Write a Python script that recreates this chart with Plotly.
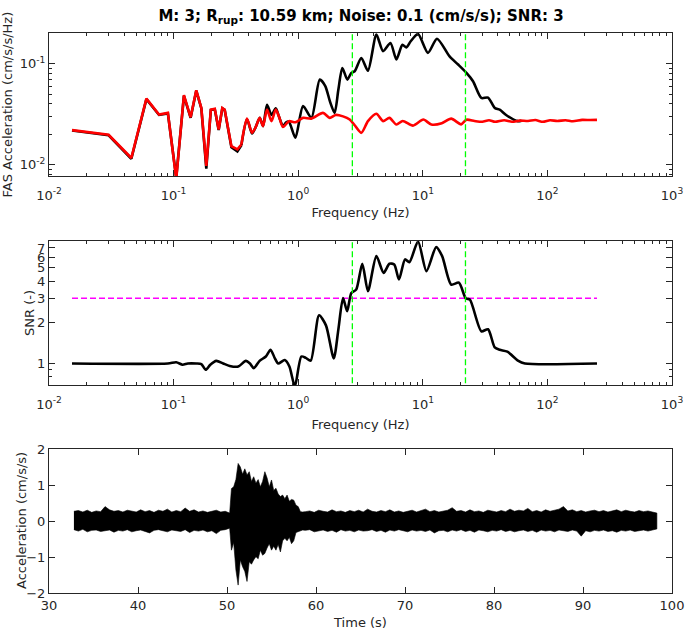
import numpy as np
import plotly.graph_objects as go

# ---------------- data ----------------
# Fourier amplitude spectrum of the signal (black)
freq_signal = [0.0153, 0.0301, 0.0458, 0.0605, 0.0764, 0.090, 0.105, 0.121, 0.137, 0.152,
               0.167, 0.183, 0.199, 0.214, 0.230, 0.246, 0.257, 0.291, 0.325, 0.35,
               0.388, 0.426, 0.456, 0.491, 0.522, 0.562, 0.61, 0.66, 0.70, 0.755,
               0.80, 0.843, 0.95, 1.094, 1.276, 1.49, 1.65, 1.8, 1.96, 2.1,
               2.26, 2.48, 2.67, 2.84, 3.21, 3.63, 4.24, 4.80, 5.50, 6.14,
               6.86, 7.38, 8.0, 9.16, 11.0, 13.0, 16.4, 19.2, 22.4, 25.3,
               29.5, 33.4, 37.8, 41.4, 46.9, 58.0, 62.0]
fas_signal = [0.0217, 0.0195, 0.0114, 0.0445, 0.0310, 0.0320, 0.0074, 0.0480, 0.0290, 0.0540,
              0.0360, 0.0091, 0.0347, 0.0353, 0.0220, 0.0360, 0.0348, 0.0148, 0.0135, 0.0155,
              0.0283, 0.0203, 0.0235, 0.0290, 0.0240, 0.0390, 0.0310, 0.0360, 0.0300, 0.0240,
              0.0262, 0.0265, 0.0184, 0.0379, 0.0290, 0.0695, 0.0600, 0.0420, 0.0325, 0.0550,
              0.0906, 0.0695, 0.0810, 0.0840, 0.1140, 0.0850, 0.1940, 0.1330, 0.1600, 0.1100,
              0.1540, 0.1450, 0.1670, 0.1970, 0.1280, 0.1770, 0.1180, 0.0980, 0.0810, 0.0670,
              0.0457, 0.0460, 0.0364, 0.0350, 0.0308, 0.0269, 0.0272]

# Fourier amplitude spectrum of the noise (red)
freq_noise = [0.0153, 0.0301, 0.0458, 0.0605, 0.0764, 0.090, 0.105, 0.121, 0.137, 0.152,
              0.167, 0.183, 0.199, 0.214, 0.230, 0.246, 0.257, 0.291, 0.325, 0.35,
              0.388, 0.426, 0.456, 0.491, 0.522, 0.562, 0.61, 0.66, 0.70, 0.755,
              0.843, 0.95, 1.094, 1.276, 1.58, 1.79, 2.0, 2.29, 2.59, 2.84,
              3.21, 3.63, 4.24, 4.80, 5.4, 6.14, 6.9, 8.34, 10.1, 11.7,
              14.2, 16.9, 20.3, 22.4, 26.0, 30.0, 34.0, 38.0, 45.0, 52.0,
              60.0, 70.0, 80.0, 92.0, 105.0, 120.0, 140.0, 160.0, 190.0, 220.0, 250.0]
fas_noise = [0.0219, 0.0197, 0.0116, 0.0450, 0.0313, 0.0325, 0.0072, 0.0487, 0.0294, 0.0544,
             0.0364, 0.0097, 0.0350, 0.0356, 0.0222, 0.0364, 0.0350, 0.0152, 0.0141, 0.0158,
             0.0285, 0.0206, 0.0235, 0.0290, 0.0240, 0.0350, 0.0269, 0.0350, 0.0300, 0.0235,
             0.0269, 0.0262, 0.0290, 0.0285, 0.0325, 0.0290, 0.0310, 0.0300, 0.0279, 0.0245,
             0.0206, 0.0269, 0.0318, 0.0269, 0.0290, 0.0249, 0.0270, 0.0243, 0.0279, 0.0249,
             0.0256, 0.0285, 0.0250, 0.0278, 0.0270, 0.0265, 0.0275, 0.0265, 0.0275, 0.0265,
             0.0272, 0.0270, 0.0276, 0.0265, 0.0275, 0.0270, 0.0275, 0.0268, 0.0277, 0.0276, 0.0277]

# Signal-to-noise ratio
freq_snr = [0.0153, 0.090, 0.105, 0.118, 0.13, 0.152, 0.167, 0.181, 0.197, 0.22,
            0.25, 0.282, 0.33, 0.38, 0.41, 0.44, 0.49, 0.55, 0.60, 0.65,
            0.69, 0.78, 0.85, 0.94, 1.06, 1.15, 1.26, 1.47, 1.67, 1.93,
            2.1, 2.29, 2.47, 2.67, 2.92, 3.27, 3.63, 4.24, 4.85, 5.4,
            5.9, 6.44, 7.2, 7.8, 9.16, 10.7, 12.8, 14.3, 16.9, 19.5,
            22.1, 23.9, 29.5, 33.4, 37.8, 41.4, 47.7, 58.0, 66.0, 250.0]
snr = [1.0, 1.0, 1.02, 0.98, 1.0, 1.0, 0.99, 0.90, 0.98, 1.045,
       1.0, 0.96, 0.95, 1.045, 1.0, 0.925, 1.045, 1.125, 1.26, 1.09,
       1.0, 1.06, 0.95, 0.68, 1.125, 1.10, 1.05, 2.25, 1.90, 1.09,
       1.77, 3.01, 2.41, 3.28, 3.47, 5.36, 3.38, 6.10, 4.60, 5.36,
       5.30, 4.11, 5.77, 5.50, 7.80, 4.74, 7.10, 6.10, 3.78, 3.90,
       3.00, 2.93, 1.72, 1.78, 1.31, 1.26, 1.22, 1.05, 1.0, 1.0]

corner_freqs = [2.72, 22.0]          # green dashed lines
snr_threshold = 3                     # magenta dashed line
snr_line_freqs = [0.0153, 250.0]

# Acceleration time series, upper / lower envelope of the trace (cm/s/s)
pre_start, pre_step = 32.8, 0.5
pre_upper = [0.27, 0.29, 0.25, 0.30, 0.24, 0.28, 0.26, 0.40, 0.31, 0.27, 0.29, 0.25, 0.30, 0.27,
             0.25, 0.31, 0.26, 0.29, 0.24, 0.30, 0.27, 0.33, 0.25, 0.29, 0.26, 0.36, 0.27, 0.31,
             0.25, 0.28, 0.24, 0.27, 0.30, 0.25, 0.27, 0.22]
pre_lower = [-0.24, -0.28, -0.23, -0.30, -0.26, -0.25, -0.29, -0.27, -0.25, -0.31, -0.26, -0.28,
             -0.24, -0.30, -0.27, -0.25, -0.29, -0.33, -0.26, -0.24, -0.28, -0.30, -0.25, -0.27,
             -0.29, -0.24, -0.32, -0.26, -0.28, -0.25, -0.30, -0.27, -0.35, -0.26, -0.24, -0.20]
burst_start, burst_step = 50.5, 0.25
burst_upper = [0.90, 0.95, 1.15, 1.60, 1.50, 1.30, 1.45, 1.28, 1.37, 1.10, 1.23, 1.05, 1.15,
               0.95, 1.10, 1.37, 1.20, 0.95, 1.14, 0.85, 0.91, 0.75, 0.68, 0.72, 0.62, 0.72,
               0.55, 0.60, 0.58, 0.44, 0.40, 0.26, 0.25]
burst_lower = [-0.81, -0.60, -1.36, -1.78, -1.08, -1.27, -1.40, -1.68, -1.13, -1.20, -1.08,
               -0.99, -1.05, -0.81, -0.95, -0.90, -0.75, -0.63, -0.81, -0.70, -0.81, -0.65,
               -0.86, -0.55, -0.48, -0.55, -0.45, -0.63, -0.55, -0.32, -0.30, -0.28, -0.25]
post_start, post_step = 58.8, 0.5
post_upper = [0.26, 0.28, 0.24, 0.30, 0.27, 0.25, 0.31, 0.26, 0.28, 0.24, 0.29, 0.26, 0.30, 0.25,
              0.33, 0.27, 0.25, 0.29, 0.26, 0.31, 0.25, 0.28, 0.24, 0.27, 0.30, 0.25, 0.28, 0.33,
              0.26, 0.29, 0.25, 0.28, 0.30, 0.37, 0.27, 0.29, 0.25, 0.31, 0.26, 0.28, 0.24, 0.30,
              0.27, 0.25, 0.29, 0.26, 0.33, 0.27, 0.30, 0.28, 0.35, 0.26, 0.29, 0.25, 0.31, 0.27,
              0.30, 0.33, 0.40, 0.28, 0.31, 0.26, 0.29, 0.25, 0.28, 0.30, 0.26, 0.29, 0.25, 0.28,
              0.31, 0.26, 0.30, 0.27, 0.25, 0.29, 0.26, 0.28, 0.25, 0.22]
post_lower = [-0.26, -0.24, -0.30, -0.27, -0.25, -0.29, -0.26, -0.31, -0.24, -0.28, -0.26, -0.30,
              -0.25, -0.28, -0.27, -0.24, -0.29, -0.26, -0.31, -0.25, -0.28, -0.24, -0.27, -0.30,
              -0.25, -0.28, -0.26, -0.29, -0.25, -0.33, -0.27, -0.26, -0.30, -0.25, -0.28, -0.24,
              -0.29, -0.26, -0.31, -0.25, -0.27, -0.30, -0.26, -0.28, -0.24, -0.29, -0.26, -0.30,
              -0.27, -0.25, -0.29, -0.26, -0.31, -0.25, -0.28, -0.26, -0.30, -0.25, -0.27, -0.29,
              -0.25, -0.28, -0.42, -0.27, -0.30, -0.26, -0.28, -0.25, -0.29, -0.27, -0.31, -0.26,
              -0.28, -0.25, -0.29, -0.27, -0.25, -0.28, -0.26, -0.22]

# ---------------- build figure ----------------
def seg_time(start, step, n):
    return [start + step * i for i in range(n)]

n_pre = min(len(pre_upper), len(pre_lower))
n_burst = min(len(burst_upper), len(burst_lower))
n_post = min(len(post_upper), len(post_lower))
t_env = (seg_time(pre_start, pre_step, n_pre) + seg_time(burst_start, burst_step, n_burst)
         + seg_time(post_start, post_step, n_post))
up_env = pre_upper[:n_pre] + burst_upper[:n_burst] + post_upper[:n_post]
lo_env = pre_lower[:n_pre] + burst_lower[:n_burst] + post_lower[:n_post]

FONT = "DejaVu Sans"
AX = "#262626"
SMOOTH_FROM = 0.35   # sparse low-frequency samples drawn straight, dense part smoothed

fig = go.Figure()

def add_spectrum(fx, fy, color, xa, ya):
    lo_idx = [i for i, f in enumerate(fx) if f <= SMOOTH_FROM]
    hi_idx = [i for i, f in enumerate(fx) if f >= SMOOTH_FROM]
    fig.add_trace(go.Scatter(x=[fx[i] for i in lo_idx], y=[fy[i] for i in lo_idx], mode="lines",
                             line=dict(color=color, width=2.6), xaxis=xa, yaxis=ya))
    fig.add_trace(go.Scatter(x=[fx[i] for i in hi_idx], y=[fy[i] for i in hi_idx], mode="lines",
                             line=dict(color=color, width=2.6, shape="spline", smoothing=0.7),
                             xaxis=xa, yaxis=ya))

# top: FAS
add_spectrum(freq_signal, fas_signal, "#000000", "x", "y")
add_spectrum(freq_noise, fas_noise, "#FF0000", "x", "y")
for fc in corner_freqs:
    fig.add_trace(go.Scatter(x=[fc, fc], y=[0.001, 1.0], mode="lines",
                             line=dict(color="#00FF00", width=1.3, dash="6px,3px"),
                             xaxis="x", yaxis="y"))

# middle: SNR
fig.add_trace(go.Scatter(x=snr_line_freqs, y=[snr_threshold, snr_threshold], mode="lines",
                         line=dict(color="#FF00FF", width=1.3, dash="6px,3px"),
                         xaxis="x2", yaxis="y2"))
fig.add_trace(go.Scatter(x=freq_snr, y=snr, mode="lines",
                         line=dict(color="#000000", width=2.6, shape="spline", smoothing=0.7),
                         xaxis="x2", yaxis="y2"))
for fc in corner_freqs:
    fig.add_trace(go.Scatter(x=[fc, fc], y=[0.1, 100.0], mode="lines",
                             line=dict(color="#00FF00", width=1.3, dash="6px,3px"),
                             xaxis="x2", yaxis="y2"))

# bottom: time series (filled envelope)
fig.add_trace(go.Scatter(x=t_env + t_env[::-1], y=up_env + lo_env[::-1], mode="lines",
                         fill="toself", fillcolor="#000000",
                         line=dict(color="#000000", width=0.6), xaxis="x3", yaxis="y3"))

log_minor_x = [m * 10.0 ** k for k in range(-2, 3) for m in range(2, 10)]
x_major = [0.01, 0.1, 1, 10, 100, 1000]
x_major_txt = ["10<sup>-2</sup>", "10<sup>-1</sup>", "10<sup>0</sup>", "10<sup>1</sup>",
               "10<sup>2</sup>", "10<sup>3</sup>"]

common = dict(showline=True, linecolor=AX, linewidth=1, mirror="allticks", ticks="inside",
              tickcolor=AX, ticklen=6, tickwidth=1, showgrid=False, zeroline=False,
              tickfont=dict(family=FONT, size=13, color=AX), automargin=False,
              ticklabeloverflow="allow")

def logx(anchor, standoff):
    return dict(type="log", range=[-2, 3], tickvals=x_major, ticktext=x_major_txt,
                anchor=anchor, ticklabelstandoff=7,
                minor=dict(tickvals=log_minor_x, ticks="inside", ticklen=3, tickcolor=AX,
                           showgrid=False),
                title=dict(text="Frequency (Hz)", font=dict(family=FONT, size=13, color=AX),
                           standoff=standoff),
                **common)

# plot area: x 49..672, y 33..593 (pixels)
L, R, T, B, W, H = 49, 13, 33, 37, 685, 630
PW = W - L - R

def ytitle(text, px, dom):
    return dict(text=text, textangle=-90, xref="paper", yref="paper",
                x=(px - L) / PW, y=(dom[0] + dom[1]) / 2, xanchor="center", yanchor="middle",
                showarrow=False, font=dict(family=FONT, size=13, color=AX))

dom_top, dom_mid, dom_bot = [0.7446, 1.0], [0.3714, 0.6286], [0.0, 0.2571]

top_minor_y = [0.008, 0.009] + [m * 0.01 for m in range(2, 10)] + [0.2]
fig.update_layout(
    width=W, height=H,
    paper_bgcolor="white", plot_bgcolor="white",
    margin=dict(l=L, r=R, t=T, b=B),
    showlegend=False,
    title=dict(text="<b>M: 3; R<sub>rup</sub>: 10.59 km; Noise: 0.1 (cm/s/s); SNR: 3</b>",
               x=0.527, xanchor="center", y=1 - 16 / 630, yanchor="middle", yref="container",
               font=dict(family=FONT, size=15, color="#000000")),
    xaxis=dict(domain=[0, 1], **logx("y", 6)),
    yaxis=dict(domain=dom_top, type="log", range=[np.log10(0.00768), np.log10(0.2015)],
               tickvals=[0.01, 0.1], ticktext=["10<sup>-2</sup>", "10<sup>-1</sup>"], anchor="x",
               minor=dict(tickvals=top_minor_y, ticks="inside", ticklen=3, tickcolor=AX,
                          showgrid=False),
               **common),
    xaxis2=dict(domain=[0, 1], **logx("y2", 9)),
    yaxis2=dict(domain=dom_mid, type="log", range=[np.log10(0.696), np.log10(7.87)],
                tickvals=[1, 2, 3, 4, 5, 6, 7], ticktext=["1", "2", "3", "4", "5", "6", "7"],
                anchor="x2",
                minor=dict(tickvals=[0.7, 0.8, 0.9], ticks="inside", ticklen=3, tickcolor=AX,
                           showgrid=False),
                **common),
    xaxis3=dict(domain=[0, 1], range=[30, 100], tickvals=[30, 40, 50, 60, 70, 80, 90, 100],
                anchor="y3",
                title=dict(text="Time (s)", font=dict(family=FONT, size=13, color=AX), standoff=7),
                **common),
    yaxis3=dict(domain=dom_bot, range=[-2, 2], tickvals=[-2, -1, 0, 1, 2], anchor="x3",
                **common),
    annotations=[ytitle("FAS Acceleration (cm/s/s/Hz)", 8, dom_top),
                 ytitle("SNR (-)", 29, dom_mid),
                 ytitle("Acceleration (cm/s/s)", 21, dom_bot)],
)

fig.write_html("out.html", config={"displayModeBar": False},
               post_script="document.body.style.margin='0px';")
